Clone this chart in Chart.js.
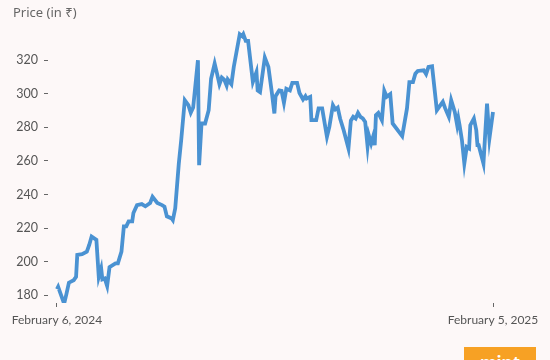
<!DOCTYPE html>
<html>
<head>
<meta charset="utf-8">
<script src="https://cdn.jsdelivr.net/npm/chart.js@4/dist/chart.umd.min.js"></script>
<style>
  html, body { margin: 0; padding: 0; background: #fdf8f8; }
  #wrap { position: relative; width: 550px; height: 360px; overflow: hidden; }
  #title { position: absolute; left: 13px; top: 3px; font-family: "Noto Sans", sans-serif; font-size: 13px; color: #666; }
  #logo { position: absolute; left: 464px; top: 347px; width: 72px; height: 20px; background: #f7a124; overflow: hidden;
          color: #fff; font-family: "Noto Sans", sans-serif; font-weight: bold; font-size: 17px; text-align: center; line-height: 31px; }
</style>
</head>
<body>
<div id="wrap">
  <canvas id="priceChart" width="550" height="360"></canvas>
  <div id="title">Price (in ₹)</div>
  <div id="logo">mint</div>
</div>
<script>
// days since February 6, 2024
var days = [0, 1, 3, 6, 8, 10, 14, 16, 17, 21, 25, 27, 29, 33, 35, 37, 38, 40, 42, 44,
    49, 51, 54, 56, 58, 60, 63, 64, 67, 71, 74, 78, 80, 84, 88, 90, 92, 96, 97, 99,
    102, 104, 107, 110, 112, 114, 118, 119, 121, 124, 127, 129, 132, 134, 136, 138, 140, 142, 143, 146,
    148, 153, 155, 156, 158, 160, 164, 167, 168, 170, 174, 177, 180, 182, 183, 186, 188, 190, 192, 195,
    197, 201, 203, 206, 208, 209, 212, 213, 217, 219, 222, 226, 228, 231, 233, 235, 237, 240, 244, 246,
    248, 250, 252, 254, 256, 258, 260, 261, 263, 265, 266, 267, 269, 272, 274, 276, 279, 281, 289, 293,
    295, 298, 300, 302, 307, 309, 311, 314, 318, 321, 323, 325, 328, 330, 333, 335, 336, 337, 339, 341,
    343, 345, 346, 349, 351, 352, 353, 357, 360, 362, 365];

var prices = [183.6, 185, 181, 175, 181, 187.5, 189, 191, 204, 204.5, 206, 210, 215, 213, 191, 196, 189.5, 190, 185.5, 196.7,
    199, 199, 206, 221, 221, 224, 224, 229, 233.7, 234.3, 233, 235, 238.7, 235, 233.7, 232.8, 227, 225.8, 224.8, 231.8,
    258.5, 272.4, 296.2, 293.2, 288.7, 291.8, 320, 257.5, 282.3, 282.3, 290.2, 309, 318, 312, 305.7, 309.7, 308.5, 305, 308.5, 305.7,
    316, 335.5, 334.3, 335.5, 331.5, 331.5, 307, 313, 302, 301, 321.6, 316, 300, 288.3, 298.6, 302, 301.7, 294.6, 303, 302,
    306.5, 306.5, 300.5, 296.6, 298.6, 297.2, 298.2, 284.3, 284.3, 291.3, 291.3, 274.4, 280.3, 293.2, 290.7, 291.8, 285.3, 278.3, 267.5, 284,
    286.3, 285.3, 288.6, 286.3, 285.3, 283.3, 268.8, 275.4, 270.4, 275.4, 269.4, 287.3, 288.6, 284.3, 301.7, 298.2, 299.8, 282.3, 274.8, 291.3,
    307, 307, 312, 313.6, 314, 311.7, 316, 316.4, 290.2, 293.2, 295.2, 291.3, 286.3, 296.2, 289.2, 281.3, 285.3, 281.3, 272.4, 258.5,
    268.4, 267.5, 281.3, 285.3, 278.3, 269.4, 269.4, 258.5, 294.2, 273.4, 289.2];

var yTicks = [180, 200, 220, 240, 260, 280, 300, 320];
var xTicks = [0, 365];
var xTickLabels = ["February 6, 2024", "February 5, 2025"];

var points = days.map(function (d, i) {
    return { x: d, y: prices[i] };
});

var ctx = document.getElementById("priceChart").getContext("2d");

new Chart(ctx, {
    type: "line",
    data: {
        datasets: [{
            data: points,
            borderColor: "#4a92d2",
            borderWidth: 3.8,
            pointRadius: 0,
            tension: 0,
            fill: false
        }]
    },
    options: {
        responsive: false,
        animation: false,
        layout: { padding: { top: 30, right: 30, left: 0, bottom: 0 } },
        plugins: {
            legend: { display: false },
            tooltip: { enabled: false }
        },
        scales: {
            x: {
                type: "linear",
                min: -7.5,
                max: 387.6,
                afterBuildTicks: function (scale) {
                    scale.ticks = xTicks.map(function (v) { return { value: v }; });
                },
                afterFit: function (scale) { scale.height = 57; },
                grid: { drawOnChartArea: false, tickLength: 4, color: "#666", tickWidth: 1 },
                border: { display: false },
                ticks: {
                    padding: 6,
                    maxRotation: 0,
                    autoSkip: false,
                    color: "#555",
                    font: { family: "Lato", size: 12 },
                    callback: function (v) {
                        var i = xTicks.indexOf(v);
                        return i >= 0 ? xTickLabels[i] : "";
                    }
                }
            },
            y: {
                min: 175.4,
                max: 338,
                afterBuildTicks: function (scale) {
                    scale.ticks = yTicks.map(function (v) { return { value: v }; });
                },
                afterFit: function (scale) { scale.width = 48; },
                grid: { drawOnChartArea: false, tickLength: 4, color: "#666", tickWidth: 1 },
                border: { display: false },
                ticks: {
                    padding: 6,
                    color: "#555",
                    font: { family: "Lato", size: 12.5 }
                }
            }
        }
    }
});
</script>
</body>
</html>
